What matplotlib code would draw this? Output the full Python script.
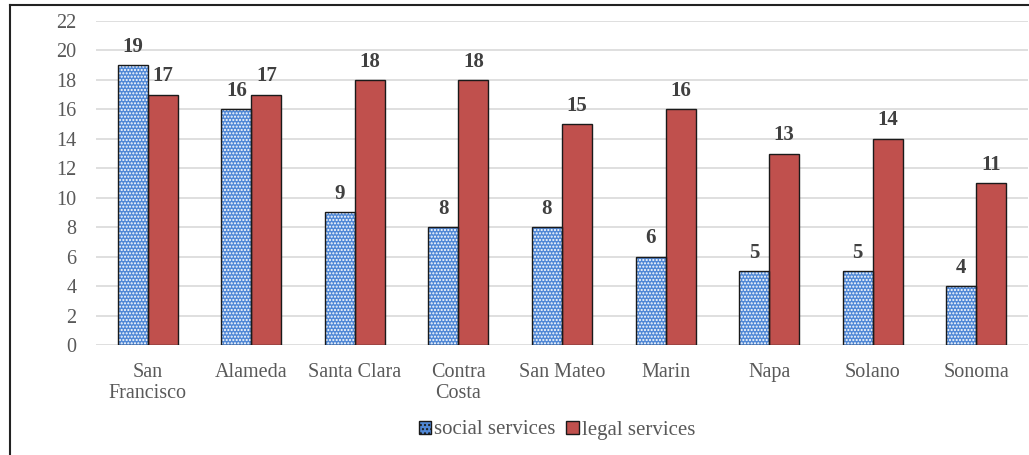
import numpy as np
import matplotlib
matplotlib.use("Agg")
import matplotlib.pyplot as plt
from matplotlib.patches import Patch

counties = ["San\nFrancisco", "Alameda", "Santa Clara", "Contra\nCosta", "San Mateo",
            "Marin", "Napa", "Solano", "Sonoma"]
social = [19, 16, 9, 8, 8, 6, 5, 5, 4]
legal = [17, 17, 18, 18, 15, 16, 13, 14, 11]

plt.rcParams['font.family'] = ['Liberation Serif', 'DejaVu Serif']

fig = plt.figure(figsize=(10.29, 4.55), dpi=100)
ax = fig.add_axes([96 / 1029, 1 - 345 / 455, 932 / 1029, 324 / 455])

x = np.arange(len(counties))
w = 0.29
blue = '#5088d6'
red = '#c0504d'

# social services: blue with white dot hatch, then black outline on top
ax.bar(x - w / 2, social, w, color=blue, edgecolor='white', hatch='.....', linewidth=0, zorder=3)
ax.bar(x - w / 2, social, w, fill=False, edgecolor='#1a1a1a', linewidth=1.0, zorder=4)
ax.bar(x + w / 2, legal, w, color=red, edgecolor='#1a1a1a', linewidth=1.0, zorder=3)

for xi, v in zip(x - w / 2, social):
    ax.annotate(str(v), (xi, v), xytext=(0, 6), textcoords='offset points',
                ha='center', va='bottom', fontsize=15, fontweight='bold', color='#404040')
for xi, v in zip(x + w / 2, legal):
    ax.annotate(str(v), (xi, v), xytext=(0, 6), textcoords='offset points',
                ha='center', va='bottom', fontsize=15, fontweight='bold', color='#404040')

ax.set_xlim(-0.5, len(counties) - 0.5)
ax.set_ylim(0, 22)
ax.set_yticks(range(0, 23, 2))
ax.set_xticks(x)
ax.set_xticklabels(counties, fontsize=14.5, color='#595959', linespacing=1.15)
ax.tick_params(axis='y', labelsize=14.5, labelcolor='#595959', length=0, pad=14)
ax.tick_params(axis='x', length=0, pad=13)
ax.yaxis.grid(True, color='#d9d9d9', linewidth=1.2, zorder=0)
ax.set_axisbelow(True)
for s in ax.spines.values():
    s.set_visible(False)

handles = [Patch(facecolor=blue, edgecolor='#1a1a1a', hatch='....'),
           Patch(facecolor=red, edgecolor='#1a1a1a')]
fig.legend(handles, ['social services', 'legal services'], loc='center',
           bbox_to_anchor=(557 / 1029, 1 - 430 / 455), ncol=2, frameon=False,
           fontsize=15, handlelength=0.6, handleheight=0.6, handletextpad=0.15,
           columnspacing=0.5, labelcolor='#595959')

# outer frame (top and left visible)
fig.add_artist(plt.Line2D([10 / 1029, 10 / 1029], [0, 1 - 5 / 455], color='#222222', lw=1.5))
fig.add_artist(plt.Line2D([10 / 1029, 1], [1 - 5 / 455, 1 - 5 / 455], color='#222222', lw=1.5))

fig.savefig('out.png', dpi=100)
